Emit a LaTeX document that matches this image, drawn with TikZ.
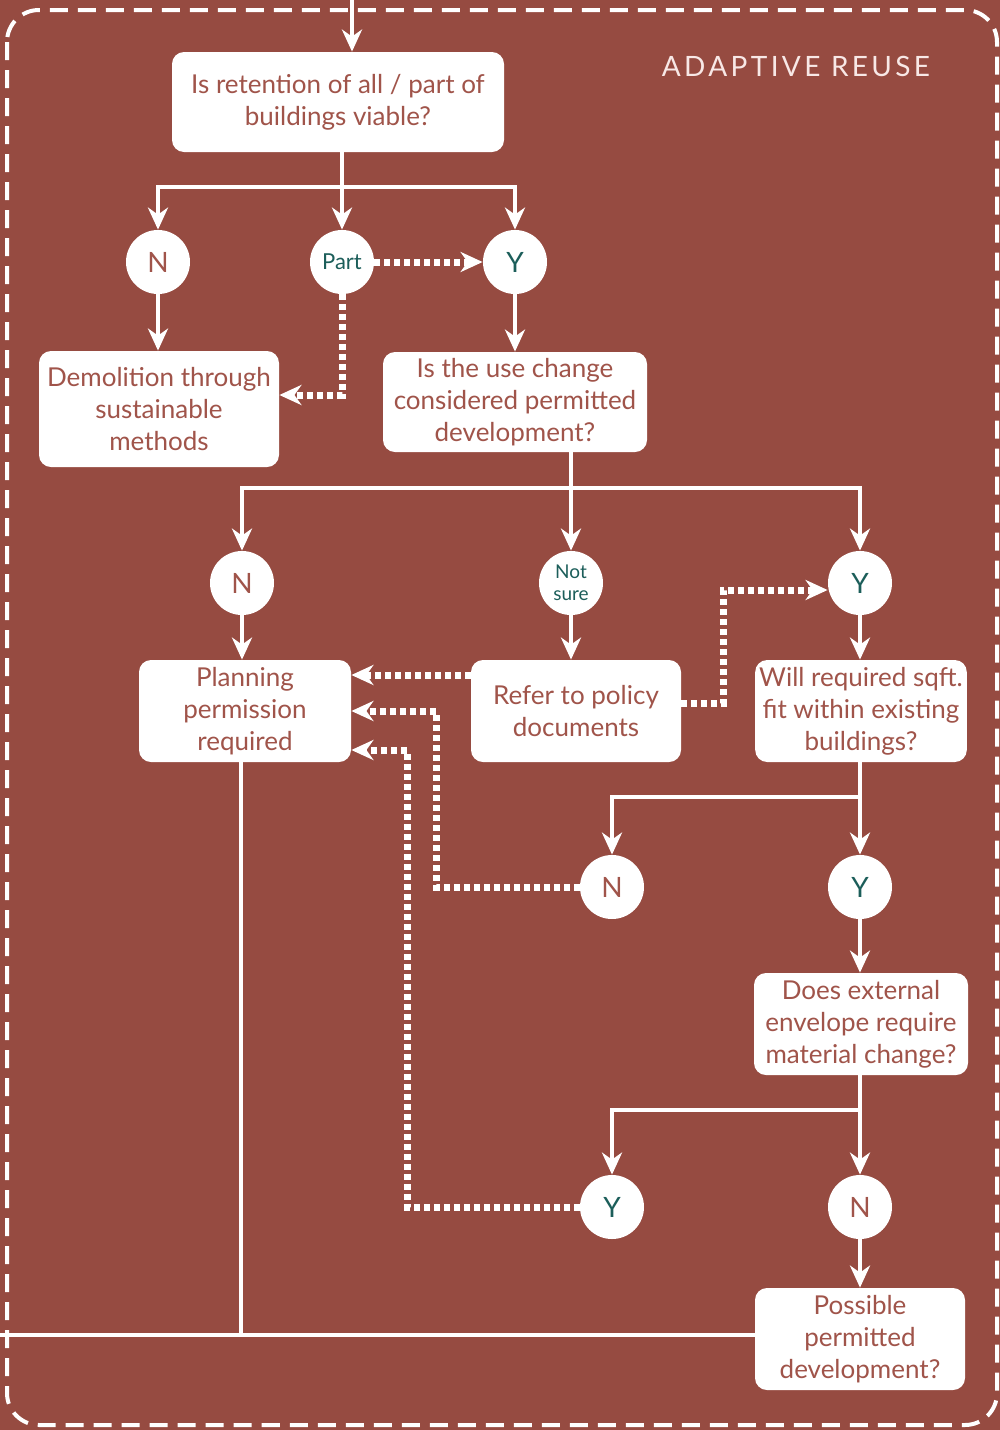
\documentclass[tikz,border=0pt]{standalone}
\usepackage{fontspec}
\setmainfont{Lato}
\usetikzlibrary{arrows.meta,calc}
\definecolor{brick}{RGB}{150,75,65}
\definecolor{boxtext}{RGB}{160,84,74}
\definecolor{petrol}{RGB}{28,94,90}
\definecolor{titlecol}{RGB}{248,232,230}

\begin{document}
\begin{tikzpicture}[x=0.5pt, y=-0.5pt,
	box/.style={fill=white, rounded corners=6pt, align=center, text=boxtext, inner sep=2pt, font=\fontsize{13}{16}\selectfont},
	ans/.style={circle, fill=white, minimum size=32pt, inner sep=0pt, font=\fontsize{14}{16}\selectfont},
	ansn/.style={ans, text=boxtext},
	ansy/.style={ans, text=petrol},
	line/.style={white, line width=2pt},
	arr/.style={line, -{Stealth[length=11pt, width=10pt, inset=3.5pt]}},
	dotarr/.style={white, line width=3.5pt, dash pattern=on 3pt off 2pt, -{Stealth[length=11pt, width=10pt, inset=3.5pt]}},
]
	\useasboundingbox (0,0) rectangle (1000,1430);
	\fill[brick] (0,0) rectangle (1000,1430);
	\draw[white, line width=2pt, dash pattern=on 9pt off 5pt, rounded corners=16pt] (7,10) rectangle (997,1425);

	\node[font=\fontsize{14}{16}\selectfont\addfontfeatures{LetterSpace=12}, text=titlecol] (ttl) at (796,66) {ADAPTIVE REUSE};

	% questions
	\node[box, minimum width=166pt, minimum height=50pt] (q1) at (338,102) {Is retention of all / part of\\buildings viable?};
	\node[box, minimum width=120pt, minimum height=58pt] (demo) at (159,409) {Demolition through\\sustainable\\methods};
	\node[box, minimum width=132pt, minimum height=50pt] (q2) at (515,402) {Is the use change\\considered permitted\\development?};
	\node[box, minimum width=106pt, minimum height=51pt] (plan) at (245,711) {Planning\\permission\\required};
	\node[box, minimum width=105pt, minimum height=51pt] (refer) at (576,711) {Refer to policy\\documents};
	\node[box, minimum width=105pt, minimum height=51pt] (fit) at (861,711) {Will required sqft.\\fit within existing\\buildings?};
	\node[box, minimum width=107pt, minimum height=51pt] (env) at (861,1024) {Does external\\envelope require\\material change?};
	\node[box, minimum width=105pt, minimum height=51pt] (poss) at (860,1339) {Possible\\permitted\\development?};

	% answers
	\node[ansn] (n1) at (158,262) {N};
	\node[ansy, font=\fontsize{11}{12}\selectfont] (part) at (342,262) {Part};
	\node[ansy] (y1) at (515,262) {Y};
	\node[ansn] (n2) at (242,583) {N};
	\node[ansy, align=center, font=\fontsize{9.5}{11}\selectfont] (ns) at (571,583) {Not\\sure};
	\node[ansy] (y2) at (860,583) {Y};
	\node[ansn] (n3) at (612,887) {N};
	\node[ansy] (y3) at (860,887) {Y};
	\node[ansy] (y4) at (612,1207) {Y};
	\node[ansn] (n4) at (860,1207) {N};

	% connectors
	\coordinate (in) at (352,0);
	\draw[arr] (in) -- (in |- q1.north);
	\coordinate (b1) at (342,187);
	\draw[line] (q1.south -| b1) -- (b1);
	\draw[arr] (b1) -| (n1);
	\draw[arr] (b1) -- (part);
	\draw[arr] (b1) -| (y1);
	\draw[dotarr] (part) -- (y1);
	\draw[arr] (n1) -- (n1 |- demo.north);
	\draw[dotarr] (part) |- ($(demo.east)+(0,-14)$);
	\draw[arr] (y1) -- (y1 |- q2.north);

	\coordinate (b2) at (571,488);
	\draw[line] (q2.south -| b2) -- (b2);
	\draw[arr] (b2) -| (n2);
	\draw[arr] (b2) -- (ns);
	\draw[arr] (b2) -| (y2);
	\draw[arr] (n2) -- (n2 |- plan.north);
	\draw[arr] (ns) -- (ns |- refer.north);
	\draw[arr] (y2) -- (y2 |- fit.north);
	\draw[dotarr] ($(refer.west)+(0,-36)$) -- ($(plan.east)+(0,-36)$);
	\coordinate (d1) at (723,590);
	\draw[dotarr] ($(refer.east)+(0,-8)$) -| (d1) -- (d1 -| y2.west);

	\coordinate (b3) at (860,797);
	\draw[line] (fit.south -| b3) -- (b3);
	\draw[arr] (b3) -| (n3);
	\draw[arr] (b3) -- (y3);
	\coordinate (d2) at (436,711);
	\draw[dotarr] (n3) -| (d2) -- (d2 -| plan.east);
	\draw[arr] (y3) -- (y3 |- env.north);

	\coordinate (b4) at (860,1110);
	\draw[line] (env.south -| b4) -- (b4);
	\draw[arr] (b4) -| (y4);
	\draw[arr] (b4) -- (n4);
	\coordinate (d3) at (407,750);
	\draw[dotarr] (y4) -| (d3) -- (d3 -| plan.east);
	\draw[arr] (n4) -- (n4 |- poss.north);

	\coordinate (jn) at (241,1335);
	\coordinate (lb) at (0,1335);
	\draw[line] (plan.south -| jn) -- (jn);
	\draw[line] (lb) -- (lb -| poss.west);

\end{tikzpicture}
\end{document}
